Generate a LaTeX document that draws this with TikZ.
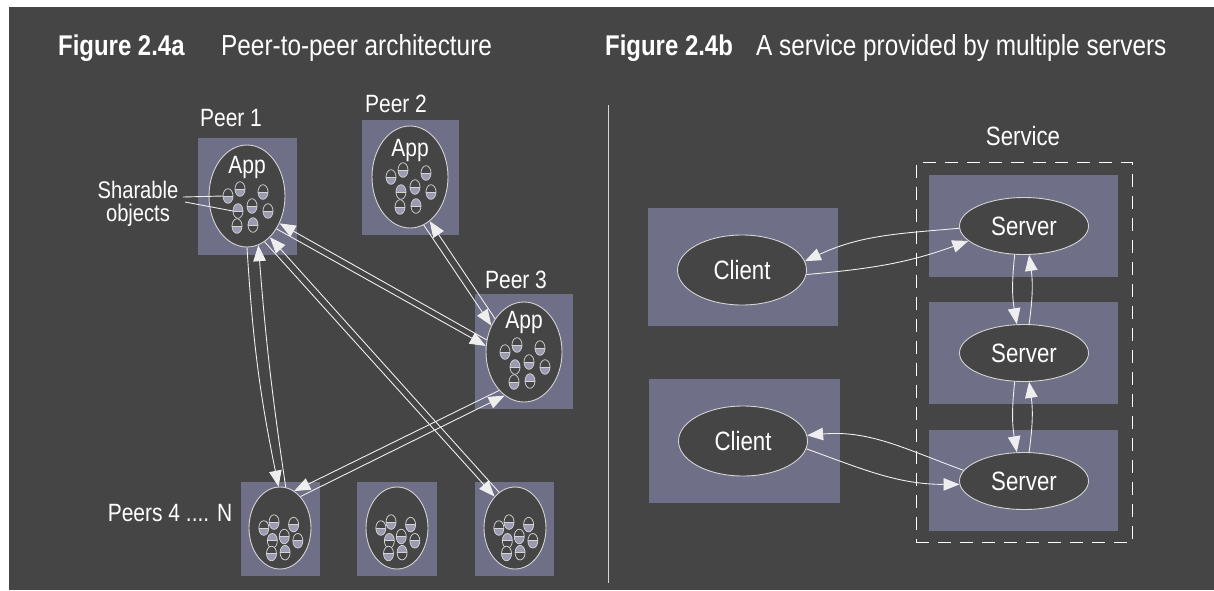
\documentclass[tikz,border=0pt]{standalone}
\usepackage{fontspec}
\setmainfont{Liberation Sans}[FakeStretch=0.84]
\usetikzlibrary{shapes.geometric,arrows.meta,calc}
\definecolor{bgc}{HTML}{454545}
\definecolor{boxc}{HTML}{6F6F87}
\definecolor{ringc}{HTML}{D4D4D4}
\definecolor{linec}{HTML}{EEEEEE}
\definecolor{halfc}{HTML}{9A9AB2}

\tikzset{
  lbl/.style={text=white, inner sep=0, anchor=base, font=\fontsize{25}{25}\selectfont},
  ttlb/.style={text=white, inner sep=0, anchor=base west, font=\bfseries\fontsize{28.5}{28.5}\selectfont},
  ttl/.style={text=white, inner sep=0, anchor=base west, font=\fontsize{29}{29}\selectfont},
  pbox/.style={fill=boxc, draw=none, inner sep=0},
  ring/.style={ellipse, draw=ringc, line width=0.9pt, fill=bgc, inner sep=0},
  bigring/.style={ring, minimum width=76, minimum height=102},
  smallring/.style={ring, minimum width=62, minimum height=82},
  oval/.style={ring, minimum width=129, text=white, font=\fontsize{26.5}{26.5}\selectfont},
  link/.style={draw=linec, line width=0.9pt, -{Triangle[length=16pt,width=12.5pt]}},
  pointer/.style={draw=linec, line width=0.9pt},
  capsule/.pic={
    \begin{scope}
      \clip (0,0) ellipse [x radius=5, y radius=7.3];
      \fill[bgc] (-6,-8) rectangle (6,8);
      \fill[halfc] (-6,0) rectangle (6,8*#1);
    \end{scope}
    \draw[ringc, line width=0.75pt] (-5,0) -- (5,0);
    \draw[ringc, line width=0.75pt] (0,0) ellipse [x radius=5, y radius=7.3];
  }
}

\begin{document}
\begin{tikzpicture}[x=1pt, y=-1pt]
% page and panel background
\fill[white] (0,0) rectangle (1214,590);
\fill[bgc] (9,7) rectangle (1214,590);
\useasboundingbox (0,0) rectangle (1214,590);

% titles
\node[ttlb] (ta) at (58,55) {Figure 2.4a};
\node[ttl]  (tat) at (221,55) {Peer-to-peer architecture};
\node[ttlb] (tb) at (605,55) {Figure 2.4b};
\node[ttl]  (tbt) at (756,55) {A service provided by multiple servers};

% ---------------- peer-to-peer panel ----------------
\node[pbox, minimum width=99, minimum height=117] (p1box) at (247.5,196.5) {};
\node[pbox, minimum width=97, minimum height=115] (p2box) at (410.5,177.5) {};
\node[pbox, minimum width=98, minimum height=115] (p3box) at (524,351.5) {};
\node[pbox, minimum width=79, minimum height=94] (q1box) at (280.5,529) {};
\node[pbox, minimum width=80, minimum height=94] (q2box) at (397,529) {};
\node[pbox, minimum width=79, minimum height=94] (q3box) at (514.5,529) {};

\node[bigring] (p1) at (247,196) {};
\node[bigring] (p2) at (410,177) {};
\node[bigring, minimum height=100] (p3) at (524,352) {};
\node[smallring] (q1) at (280,528) {};
\node[smallring] (q2) at (397,528) {};
\node[smallring] (q3) at (515,528) {};

\node[lbl] (p1lbl) at (231,126) {Peer 1};
\node[lbl] (p2lbl) at (396,112) {Peer 2};
\node[lbl] (p3lbl) at (516,288) {Peer 3};
\node[lbl] (qlbl) at (170,521) {Peers 4 .... N};

\node[lbl] (p1app) at (247,173) {App};
\node[lbl] (p2app) at (410,156) {App};
\node[lbl] (p3app) at (524,328) {App};

% shared objects inside each application
\foreach \c in {p1,p2,p3}{
  \begin{scope}[shift={(\c.center)}]
    \foreach \dx/\dy/\h in {-19/0/1, -7/-7/1, 16/-4/1, -9/15/-1, 5/10/1, 21/15/1, -10/30/1, 6/29/-1}
      \pic at (\dx,\dy) {capsule=\h};
  \end{scope}
}
\foreach \c in {q1,q2,q3}{
  \begin{scope}[shift={(\c.center)}, scale=0.85]
    \foreach \dx/\dy/\h in {-19/0/1, -7/-7/1, 16/-4/1, -9/15/-1, 5/10/1, 21/15/1, -10/30/1, 6/29/-1}
      \pic at (\dx,\dy) {capsule=\h};
  \end{scope}
}

% label for the shared objects
\node[lbl, font=\fontsize{24}{24}\selectfont] (sharable) at (138,198) {Sharable};
\node[lbl, font=\fontsize{24}{24}\selectfont] (objects) at (138,221) {objects};
\coordinate (shfromA) at (183,197);
\coordinate (shfromB) at (185,202);
\coordinate (objA) at (223,196);
\coordinate (objB) at (233,211);
\draw[pointer] (shfromA) -- (objA);
\draw[pointer] (shfromB) -- (objB);

% peer links
\draw[link] (p3.162) -- (p1.-40);
\draw[link] (p1.-48) -- (p3.171);
\draw[link] (q3.114) -- (p1.-61);
\draw[link] (p1.-69) -- (q3.123);
\draw[link] (p1.-90) to[bend right=4] (q1.92);
\draw[link] (q1.82) to[bend left=2] (p1.-77);
\draw[link] (p2.-74) -- (p3.141);
\draw[link] (p3.131) -- (p2.-66);
\draw[link] (p3.-123) -- (q1.69);
\draw[link] (q1.57) -- (p3.-114);

% separator
\draw[ringc, line width=0.9pt] (608,105) -- (608,583);

% ---------------- multiple servers panel ----------------
\node[pbox, minimum width=190, minimum height=118] (c1box) at (743,267) {};
\node[pbox, minimum width=191, minimum height=124] (c2box) at (744.5,441) {};
\node[pbox, minimum width=189, minimum height=102] (s1box) at (1023.5,226) {};
\node[pbox, minimum width=189, minimum height=102] (s2box) at (1023.5,353) {};
\node[pbox, minimum width=189, minimum height=101] (s3box) at (1023.5,480.5) {};

\node[draw=white, line width=0.9pt, dash pattern=on 13pt off 9pt, inner sep=0,
      minimum width=216, minimum height=380] (service) at (1024,352.5) {};
\node[lbl, font=\fontsize{26.5}{26.5}\selectfont] (servicelbl) at (1023,145) {Service};

\node[oval, minimum height=70] (c1) at (742,270) {Client};
\node[oval, minimum height=70] (c2) at (743,441) {Client};
\node[oval, minimum height=57] (s1) at (1024,226) {Server};
\node[oval, minimum height=57] (s2) at (1024,353) {Server};
\node[oval, minimum height=57] (s3) at (1024,481) {Server};

\draw[link] (s1.182) to[out=185,in=25] (c1.8);
\draw[link] (c1.-4) to[out=5,in=200] (s1.195);
\draw[link] (s1.-108) to[bend right=8] (s2.104);
\draw[link] (s2.80) to[bend right=8] (s1.-80);
\draw[link] (s2.-108) to[bend right=8] (s3.104);
\draw[link] (s3.80) to[bend right=8] (s2.-80);
\draw[link] (s3.170) to[out=160,in=5] (c2.5);
\draw[link] (c2.-7) to[out=-20,in=180] (s3.183);
\end{tikzpicture}
\end{document}
